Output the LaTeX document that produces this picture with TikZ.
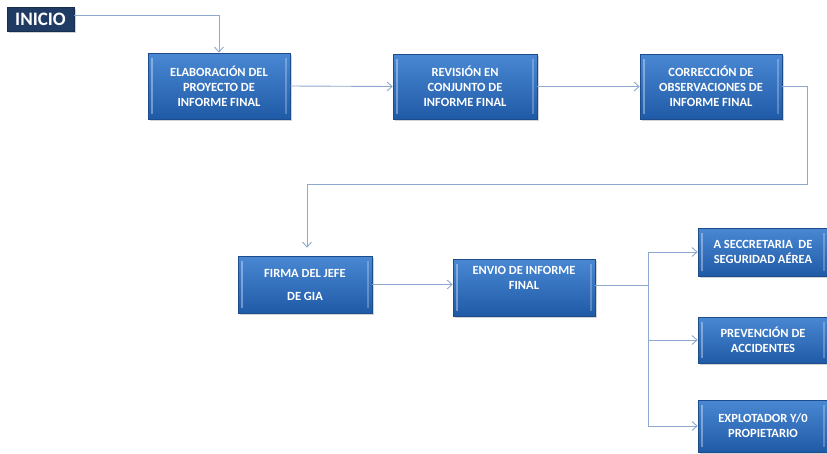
\documentclass[tikz,border=0pt]{standalone}
\usepackage{fontspec}
\setmainfont{Carlito}
\usetikzlibrary{arrows.meta,shadows}
\definecolor{boxtop}{HTML}{4A88D4}
\definecolor{boxbot}{HTML}{1F5AA6}
\definecolor{boxedge}{HTML}{1D4C8C}
\definecolor{navy}{HTML}{1F3A63}
\definecolor{conn}{HTML}{8EA8CE}
\tikzset{
  flowbox/.style={draw=boxedge, line width=0.6pt, top color=boxtop, bottom color=boxbot,
    text=white, font=\bfseries\fontsize{12.5}{15}\selectfont, align=center,
    inner sep=0pt, drop shadow={opacity=0.35, shadow xshift=2pt, shadow yshift=-2pt},
    path picture={
      \draw[line width=2.5pt, white, opacity=0.35]
        ([xshift=4pt,yshift=-5pt]path picture bounding box.north west) --
        ([xshift=4pt,yshift=5pt]path picture bounding box.south west);
      \draw[line width=2.5pt, white, opacity=0.25]
        ([xshift=-4pt,yshift=-5pt]path picture bounding box.north east) --
        ([xshift=-4pt,yshift=5pt]path picture bounding box.south east);
    }},
  startbox/.style={draw=navy!80!black, fill=navy, text=white,
    font=\bfseries\fontsize{19}{19}\selectfont, inner sep=0pt,
    drop shadow={opacity=0.35, shadow xshift=2pt, shadow yshift=-2pt}},
  conn/.style={draw=conn, line width=0.9pt},
  arr/.style={conn, -{Straight Barb[length=5pt,width=9pt]}}
}
\begin{document}
\begin{tikzpicture}[x=1pt,y=-1pt]
\useasboundingbox (0,0) rectangle (827,453);
\node[startbox, minimum width=67pt, minimum height=24pt] (inicio) at (40.5,19) {INICIO};
\node[flowbox, minimum width=142pt, minimum height=66pt] (elab) at (219,86) {ELABORACIÓN DEL\\PROYECTO DE\\INFORME FINAL};
\node[flowbox, minimum width=144pt, minimum height=65pt] (rev) at (465,86.5) {REVISIÓN EN\\CONJUNTO DE\\INFORME FINAL};
\node[flowbox, minimum width=142pt, minimum height=65pt] (corr) at (711,86.5) {CORRECCIÓN DE\\OBSERVACIONES DE\\INFORME FINAL};
\node[flowbox, minimum width=134pt, minimum height=57pt, font=\bfseries\fontsize{12.5}{23}\selectfont] (firma) at (305,284.5) {FIRMA DEL JEFE\\DE GIA};
\node[flowbox, minimum width=142pt, minimum height=57pt] (envio) at (524,287.5) {ENVIO DE INFORME\\FINAL\\[4pt]};
\node[flowbox, minimum width=130pt, minimum height=48pt] (secc) at (763,252) {A SECCRETARIA\ \ DE\\SEGURIDAD AÉREA};
\node[flowbox, minimum width=130pt, minimum height=46pt] (prev) at (763,340) {PREVENCIÓN DE\\ACCIDENTES};
\node[flowbox, minimum width=130pt, minimum height=52pt] (expl) at (763,426) {EXPLOTADOR Y/0\\PROPIETARIO};
\coordinate (c1) at (807,184);
\coordinate (c2) at (307,184);
\coordinate (br) at (648,285);
\draw[arr] ([yshift=4pt]inicio.east) -| (elab.north);
\draw[arr] (elab.east) -- (rev.west);
\draw[arr] (rev.east) -- (corr.west);
\draw[arr] (corr.east) -| (c1) -- (c2) -- ([yshift=8pt]c2 |- firma.north);
\draw[arr] (firma.east) -- (firma.east -| envio.west);
\draw[conn] (envio.east |- br) -- (br);
\draw[arr] (br) |- (secc.west);
\draw[arr] (br) |- (prev.west);
\draw[arr] (br) |- (expl.west);
\end{tikzpicture}
\end{document}
